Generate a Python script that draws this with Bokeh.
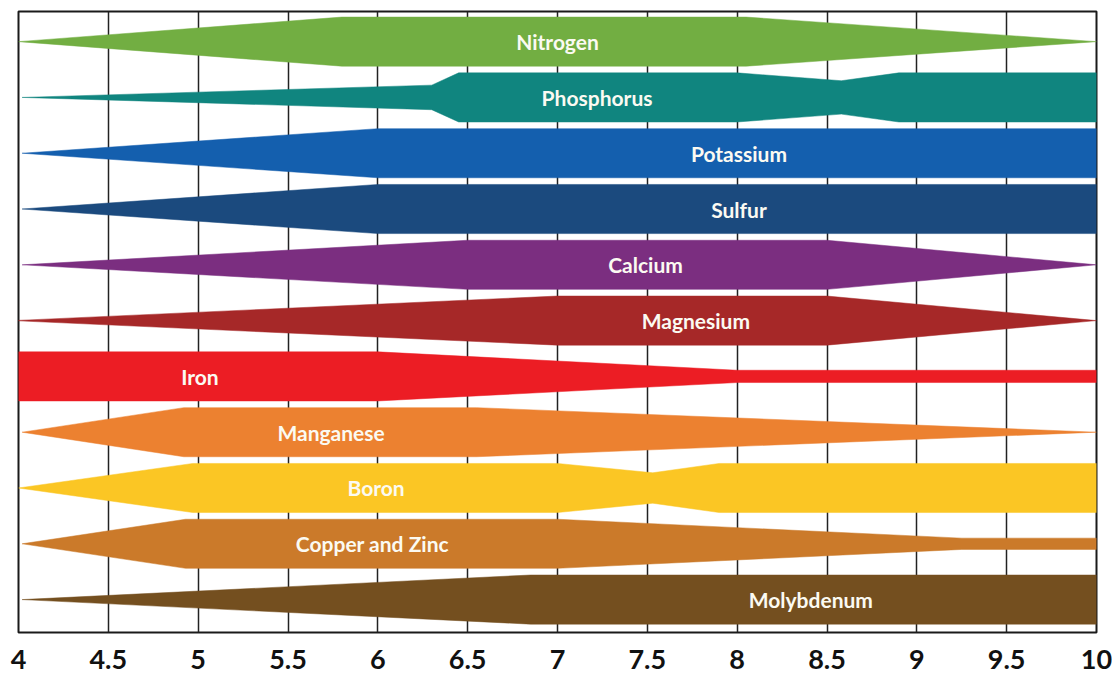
from bokeh.plotting import figure
from bokeh.models import FixedTicker, Range1d, ColumnDataSource
from bokeh.core.properties import value
from bokeh.embed import file_html
from bokeh.resources import INLINE

# ---- data ----
nutrients = ["Nitrogen", "Phosphorus", "Potassium", "Sulfur", "Calcium", "Magnesium",
             "Iron", "Manganese", "Boron", "Copper and Zinc", "Molybdenum"]
colors = ["#72ae42", "#10857f", "#145fae", "#1b4a7e", "#7b2e80", "#a62828",
          "#ec1d24", "#ec8130", "#fbc624", "#cb7a2a", "#744f1f"]
# pH breakpoints and relative availability (band thickness, 0..1)
ph_points = [
    [4.0, 5.8, 8.05, 10.0],
    [4.02, 6.3, 6.45, 8.0, 8.58, 8.9, 10.0],
    [4.02, 6.0, 10.0],
    [4.02, 6.0, 10.0],
    [4.02, 6.5, 8.5, 10.0],
    [3.97, 7.0, 8.5, 10.0],
    [4.0, 6.0, 8.0, 10.0],
    [4.02, 4.92, 6.55, 10.0],
    [4.0, 4.97, 7.0, 7.53, 7.9, 10.0],
    [4.02, 4.93, 7.0, 9.25, 10.0],
    [4.02, 6.85, 10.0],
]
availability = [
    [0.0, 1.0, 1.0, 0.0],
    [0.0, 0.5, 1.0, 1.0, 0.68, 1.0, 1.0],
    [0.0, 1.0, 1.0],
    [0.0, 1.0, 1.0],
    [0.0, 1.0, 1.0, 0.0],
    [0.0, 1.0, 1.0, 0.0],
    [1.0, 1.0, 0.25, 0.25],
    [0.0, 1.0, 1.0, 0.0],
    [0.0, 1.0, 1.0, 0.62, 1.0, 1.0],
    [0.0, 1.0, 1.0, 0.23, 0.23],
    [0.0, 1.0, 1.0],
]
label_ph = [7.0, 7.22, 8.01, 8.01, 7.49, 7.77, 5.01, 5.74, 5.99, 5.97, 8.41]
rows = list(range(len(nutrients), 0, -1))
tick_values = [4, 4.5, 5, 5.5, 6, 6.5, 7, 7.5, 8, 8.5, 9, 9.5, 10]
tick_labels = ["4", "4.5", "5", "5.5", "6", "6.5", "7", "7.5", "8", "8.5", "9", "9.5", "10"]

MAXHW = 0.44

xs, ys = [], []
for ph, w, r in zip(ph_points, availability, rows):
    top = [r + MAXHW * v for v in w]
    bot = [r - MAXHW * v for v in w]
    xs.append(list(ph) + list(ph[::-1]))
    ys.append(top + bot[::-1])

band_src = ColumnDataSource(dict(xs=xs, ys=ys, color=colors))
label_src = ColumnDataSource(dict(x=label_ph, y=rows, text=nutrients))

p = figure(frame_width=1078, frame_height=621,
           x_range=Range1d(4, 10), y_range=Range1d(0.41, 11.54),
           output_backend="svg", toolbar_location=None,
           min_border_left=18, min_border_top=11, min_border_right=16, min_border_bottom=45)
p.background_fill_color = "white"
p.border_fill_color = "white"
p.outline_line_color = "#1a1a1a"
p.outline_line_width = 2
p.outline_line_alpha = 1

p.patches("xs", "ys", source=band_src, fill_color="color", line_color="color", line_width=0.5)
p.text("x", "y", text="text", source=label_src, text_align="center", text_baseline="middle",
       text_color="#fbfaf2", text_font=value("Lato"), text_font_style="bold",
       text_font_size="21px")

p.yaxis.visible = False
p.ygrid.grid_line_color = None

ticker = FixedTicker(ticks=tick_values)
p.xaxis.ticker = ticker
p.xaxis.major_label_overrides = {v: t for v, t in zip(tick_values, tick_labels)}
p.xaxis.axis_line_color = None
p.xaxis.major_tick_line_color = None
p.xaxis.minor_tick_line_color = None
p.xaxis.major_label_text_font = "Lato"
p.xaxis.major_label_text_font_style = "bold"
p.xaxis.major_label_text_font_size = "27px"
p.xaxis.major_label_text_color = "#111111"
p.xaxis.major_label_standoff = 11

p.xgrid.ticker = ticker
p.xgrid.grid_line_color = "#222222"
p.xgrid.grid_line_width = 1.5

open("out.html", "w").write(file_html(p, INLINE))
